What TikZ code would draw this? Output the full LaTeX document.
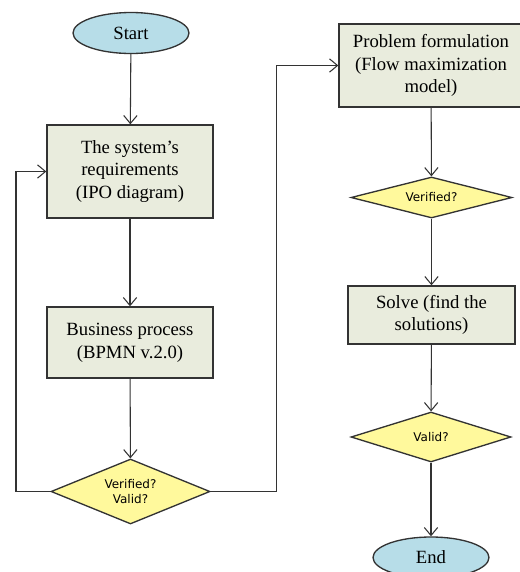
\documentclass[tikz,border=0pt]{standalone}
\usepackage{fontspec}
\setmainfont{Liberation Serif}
\newfontfamily\chkfont{DejaVu Sans}
\usepackage{tikz}
\usetikzlibrary{arrows.meta, positioning, shapes.geometric, calc}
\definecolor{boxfill}{HTML}{E9ECDD}
\definecolor{termfill}{HTML}{B7DDE8}
\definecolor{chkfill}{HTML}{FFF99C}
\definecolor{edge}{HTML}{333333}

\begin{document}
\begin{tikzpicture}[x=0.75pt, y=-0.75pt,
    proc/.style={rectangle, draw=edge, line width=1pt, fill=boxfill, align=center,
                 font=\fontsize{14}{17}\selectfont, inner sep=2pt},
    term/.style={ellipse, draw=edge, line width=1pt, fill=termfill, inner sep=0pt,
                 font=\fontsize{14}{17}\selectfont, minimum width=87pt, minimum height=30.75pt},
    chk/.style={diamond, shape aspect=2.5, draw=edge, line width=1pt, fill=chkfill,
                inner sep=0pt, align=center, font=\chkfont\fontsize{9}{11.5}\selectfont},
    arrow/.style={-{Straight Barb[length=6pt, width=10pt]}, line width=0.8pt, color=edge}
  ]
    \useasboundingbox (0,0) rectangle (520,572);

    % left column
    \node[term] (start) at (131, 33) {Start};
    \node[proc, minimum width=124.5pt, minimum height=69.75pt]
      (req) at (130, 171.5) {The system’s\\requirements\\(IPO diagram)};
    \node[proc, minimum width=124.5pt, minimum height=53.25pt]
      (bus) at (130, 342.5) {Business process\\(BPMN v.2.0)};
    \node[chk, minimum width=119.25pt, minimum height=48.75pt]
      (chk1) at (130.5, 491.5) {Verified?\\Valid?};

    % right column
    \node[proc, minimum width=138pt, minimum height=62.25pt]
      (prob) at (431, 65.5) {Problem formulation\\(Flow maximization\\model)};
    \node[chk, minimum width=120.75pt, minimum height=30.75pt]
      (chk2) at (431.5, 197.5) {Verified?};
    \node[proc, minimum width=125.25pt, minimum height=43.5pt]
      (solve) at (431.5, 315) {Solve (find the\\solutions)};
    \node[chk, minimum width=120pt, minimum height=37.5pt]
      (chk3) at (431, 437) {Valid?};
    \node[term] (end) at (431, 557.5) {End};

    \coordinate (loopL) at (16, 491.5);
    \coordinate (loopR) at (276.5, 491.5);

    \draw[arrow] (start) -- (req);
    \draw[arrow] (req) -- (bus);
    \draw[arrow] (bus) -- (chk1);
    \draw[arrow] (chk1.west) -- (loopL) |- (req.west);
    \draw[arrow] (chk1.east) -- (loopR) |- (prob.west);
    \draw[arrow] (prob) -- (chk2);
    \draw[arrow] (chk2) -- (solve);
    \draw[arrow] (solve) -- (chk3);
    \draw[arrow] (chk3) -- (end);
  \end{tikzpicture}
\end{document}
